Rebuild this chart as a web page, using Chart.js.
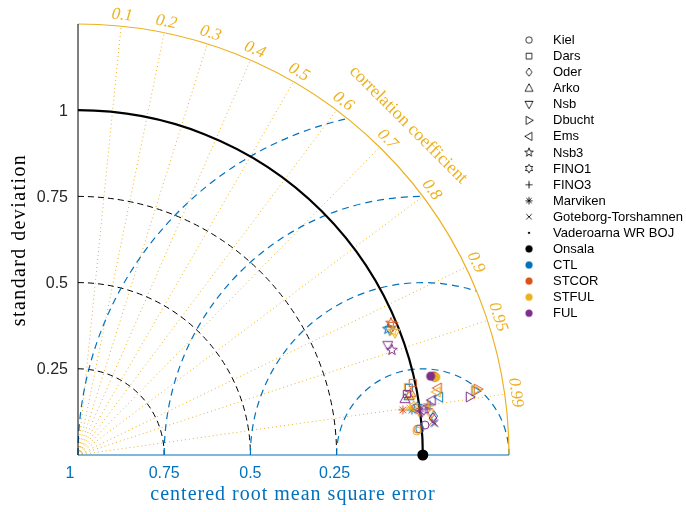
<!DOCTYPE html>
<html><head><meta charset="utf-8">
<script src="https://cdn.jsdelivr.net/npm/chart.js@4.4.0/dist/chart.umd.min.js"></script>
<style>html,body{margin:0;padding:0;background:#fff;}#wrap{width:686px;height:512px;position:relative}</style>
</head><body><div id="wrap"><canvas id="c" width="686" height="512"></canvas></div>
<script>
// ---------- data ----------
const stations = ['Kiel','Dars','Oder','Arko','Nsb','Dbucht','Ems','Nsb3','FINO1','FINO3','Marviken','Goteborg-Torshamnen','Vaderoarna WR BOJ','Onsala'];
const stationShapes = ['circle','square','diamond','triUp','triDown','triRight','triLeft','pentagram','hexagram','plus','asterisk','x','point','disc'];
const experiments = ['CTL','STCOR','STFUL','FUL'];
const expColors = ['#0072BD','#D95319','#EDB120','#7E2F8E'];
// normalized standard deviation per station
const stdCTL   = [0.994,0.979,1.038,0.975,0.974,1.168,1.060,0.970,0.995,1.031,0.977,1.036,1.001,1.059];
const stdSTCOR = [0.988,0.993,1.033,0.982,0.987,1.175,1.061,0.985,0.989,1.025,0.951,1.034,0.998,1.057];
const stdSTFUL = [0.985,0.977,1.030,0.978,0.985,1.169,1.056,0.981,0.984,1.027,0.972,1.031,0.995,1.062];
const stdFUL   = [1.010,0.970,1.035,0.962,0.953,1.149,1.038,0.960,1.011,1.017,0.999,1.039,1.003,1.048];
// correlation coefficient per station
const corCTL   = [0.9971,0.9800,0.9941,0.9845,0.9283,0.9873,0.9874,0.9264,0.9901,0.9901,0.9911,0.9960,0.9933,0.9770];
const corSTCOR = [0.9971,0.9777,0.9930,0.9831,0.9254,0.9867,0.9831,0.9214,0.9905,0.9895,0.9905,0.9955,0.9930,0.9762];
const corSTFUL = [0.9975,0.9794,0.9933,0.9841,0.9332,0.9869,0.9849,0.9305,0.9895,0.9904,0.9901,0.9958,0.9933,0.9771];
const corFUL   = [0.9963,0.9832,0.9946,0.9856,0.9425,0.9892,0.9882,0.9484,0.9917,0.9914,0.9918,0.9961,0.9937,0.9759];
// reference (observations)
const refStd = 1.0, refCor = 1.0;
// axes / ticks
const maxStd = 1.25;
const stdTicks = [0.25,0.5,0.75,1];
const stdTickLabels = ['0.25','0.5','0.75','1'];
const corrTicks = [0.1,0.2,0.3,0.4,0.5,0.6,0.7,0.8,0.9,0.95,0.99];
const corrTickLabels = ['0.1','0.2','0.3','0.4','0.5','0.6','0.7','0.8','0.9','0.95','0.99'];
const rmsTicks = [0.25,0.5,0.75,1];
const rmsTickLabels = ['0.25','0.5','0.75','1'];

const ORANGE = '#EDB120', BLUE = '#0072BD';

// ---------- marker canvases ----------
const markerCache = {};
function marker(shape, color){
  const key = shape+color;
  if (markerCache[key]) return markerCache[key];
  const S = 16, c = document.createElement('canvas');
  c.width = S; c.height = S;
  const g = c.getContext('2d');
  g.translate(S/2, S/2);
  g.strokeStyle = color; g.fillStyle = color; g.lineWidth = 1;
  const poly = pts => { g.beginPath(); pts.forEach((p,i)=> i?g.lineTo(p[0],p[1]):g.moveTo(p[0],p[1])); g.closePath(); g.stroke(); };
  const star = (n, ro, ri) => { const pts=[]; for(let i=0;i<2*n;i++){const a=-Math.PI/2+i*Math.PI/n; const r=i%2?ri:ro; pts.push([r*Math.cos(a), r*Math.sin(a)]);} poly(pts); };
  const line = (a,b,c2,d) => { g.beginPath(); g.moveTo(a,b); g.lineTo(c2,d); g.stroke(); };
  switch(shape){
    case 'circle': g.beginPath(); g.arc(0,0,4,0,2*Math.PI); g.stroke(); break;
    case 'square': poly([[-3.6,-3.6],[3.6,-3.6],[3.6,3.6],[-3.6,3.6]]); break;
    case 'diamond': poly([[0,-5],[3.8,0],[0,5],[-3.8,0]]); break;
    case 'triUp': poly([[0,-5.3],[5,3.7],[-5,3.7]]); break;
    case 'triDown': poly([[0,5.3],[5,-3.7],[-5,-3.7]]); break;
    case 'triRight': poly([[5.3,0],[-3.7,-5],[-3.7,5]]); break;
    case 'triLeft': poly([[-5.3,0],[3.7,-5],[3.7,5]]); break;
    case 'pentagram': star(5,5.6,2.3); break;
    case 'hexagram': star(6,5.2,3.0); break;
    case 'plus': line(-4.5,0,4.5,0); line(0,-4.5,0,4.5); break;
    case 'asterisk': line(-4.5,0,4.5,0); line(0,-4.5,0,4.5); line(-3.3,-3.3,3.3,3.3); line(-3.3,3.3,3.3,-3.3); break;
    case 'x': line(-3.5,-3.5,3.5,3.5); line(-3.5,3.5,3.5,-3.5); break;
    case 'point': g.beginPath(); g.arc(0,0,1.3,0,2*Math.PI); g.fill(); break;
    case 'disc': g.beginPath(); g.arc(0,0,4.5,0,2*Math.PI); g.fill(); break;
  }
  markerCache[key] = c;
  return c;
}

function toXY(stds, cors){
  return stds.map((s,i)=>({x: s*cors[i], y: s*Math.sqrt(Math.max(0,1-cors[i]*cors[i]))}));
}
const stdSets = [stdCTL, stdSTCOR, stdSTFUL, stdFUL];
const corSets = [corCTL, corSTCOR, corSTFUL, corFUL];

const datasets = experiments.map((name,k)=>({
  label: name,
  data: toXY(stdSets[k], corSets[k]),
  pointStyle: stationShapes.map(sh=>marker(sh, expColors[k])),
  pointRadius: 5,
  backgroundColor: expColors[k],
  borderColor: expColors[k],
  order: 4-k,
  clip: false
}));
datasets.push({
  label: 'reference',
  data: toXY([refStd],[refCor]),
  pointStyle: 'circle', pointRadius: 5.5, pointBorderWidth: 0,
  backgroundColor: '#000', borderColor: '#000', order: -1, clip: false
});

// ---------- Taylor grid plugin ----------
const taylor = {
  id: 'taylor',
  beforeDatasetsDraw(chart){
    const ctx = chart.ctx, xs = chart.scales.x, ys = chart.scales.y;
    const X = v=>xs.getPixelForValue(v), Y = v=>ys.getPixelForValue(v);
    const ox = X(0), oy = Y(0), k = X(1)-X(0), R = maxStd*k;
    ctx.save();
    // correlation rays
    ctx.strokeStyle = ORANGE; ctx.lineWidth = 1; ctx.setLineDash([1,3]);
    corrTicks.forEach(c=>{
      const th = Math.acos(c);
      ctx.beginPath(); ctx.moveTo(ox,oy); ctx.lineTo(ox+R*Math.cos(th), oy-R*Math.sin(th)); ctx.stroke();
    });
    // std dashed arcs
    ctx.strokeStyle = '#000'; ctx.lineWidth = 1; ctx.setLineDash([6,4]);
    stdTicks.filter(s=>s<1).forEach(s=>{ ctx.beginPath(); ctx.arc(ox,oy,s*k,-Math.PI/2,0); ctx.stroke(); });
    // RMS arcs
    ctx.strokeStyle = BLUE; ctx.lineWidth = 1.2; ctx.setLineDash([7,5]);
    const rx = X(refStd);
    rmsTicks.forEach(r=>{
      const xi = (maxStd*maxStd + 1 - r*r)/2;
      const yi = Math.sqrt(Math.max(0, maxStd*maxStd - xi*xi));
      const phi = Math.atan2(yi, xi-1);
      ctx.beginPath(); ctx.arc(rx, oy, r*k, -Math.PI, -phi); ctx.stroke();
    });
    // std = 1 solid
    ctx.setLineDash([]);
    ctx.strokeStyle = '#000'; ctx.lineWidth = 2.2;
    ctx.beginPath(); ctx.arc(ox,oy,k,-Math.PI/2,0); ctx.stroke();
    // outer arc
    ctx.strokeStyle = ORANGE; ctx.lineWidth = 1.2;
    ctx.beginPath(); ctx.arc(ox,oy,R,-Math.PI/2,0); ctx.stroke();
    // axes
    ctx.strokeStyle = '#000'; ctx.lineWidth = 1;
    ctx.beginPath(); ctx.moveTo(ox, oy); ctx.lineTo(ox, Y(maxStd)); ctx.stroke();
    ctx.strokeStyle = BLUE; ctx.lineWidth = 1.2;
    ctx.beginPath(); ctx.moveTo(ox, oy); ctx.lineTo(X(maxStd), oy); ctx.stroke();
    ctx.restore();
  },
  afterDraw(chart){
    const ctx = chart.ctx, xs = chart.scales.x, ys = chart.scales.y;
    const X = v=>xs.getPixelForValue(v), Y = v=>ys.getPixelForValue(v);
    const ox = X(0), oy = Y(0), k = X(1)-X(0), R = maxStd*k;
    ctx.save();
    // std tick labels
    ctx.font = '16px "Liberation Sans", Arial, sans-serif';
    ctx.fillStyle = '#262626'; ctx.textAlign = 'right'; ctx.textBaseline = 'middle';
    stdTicks.forEach((s,i)=> ctx.fillText(stdTickLabels[i], ox-10, Y(s)+1));
    // rms tick labels
    ctx.fillStyle = BLUE; ctx.textAlign = 'center'; ctx.textBaseline = 'middle';
    rmsTicks.forEach((r,i)=> ctx.fillText(rmsTickLabels[i], X(refStd - r) - (r===1?8:0) - (r===0.25?2:0), oy+19));
    // correlation labels
    ctx.fillStyle = ORANGE;
    ctx.font = 'italic 17px "Liberation Serif", "Times New Roman", serif';
    corrTicks.forEach((c,i)=>{
      const th = Math.acos(c), rr = R+11;
      ctx.save();
      ctx.translate(ox+rr*Math.cos(th), oy-rr*Math.sin(th));
      ctx.rotate(Math.PI/2 - th);
      ctx.textAlign='center'; ctx.textBaseline='middle';
      ctx.fillText(corrTickLabels[i], 0, 0);
      ctx.restore();
    });
    // correlation title
    ctx.font = '18px "Liberation Serif", "Times New Roman", serif';
    ctx.save();
    const tt = Math.PI/4, tr = R+36;
    ctx.translate(ox+tr*Math.cos(tt), oy-tr*Math.sin(tt));
    ctx.rotate(Math.PI/2 - tt);
    ctx.textAlign='center'; ctx.textBaseline='middle';
    ctx.fillText('correlation coefficient', 0, 0);
    ctx.restore();
    // axis titles
    ctx.font = '20px "Liberation Serif", "Times New Roman", serif';
    ctx.fillStyle = '#000';
    ctx.save(); ctx.translate(20, 240); ctx.rotate(-Math.PI/2);
    ctx.letterSpacing = '1.4px';
    ctx.textAlign='center'; ctx.textBaseline='middle';
    ctx.fillText('standard deviation', 0, 0); ctx.restore();
    ctx.save();
    ctx.letterSpacing = '1px';
    ctx.fillStyle = BLUE; ctx.textAlign='center'; ctx.textBaseline='middle';
    ctx.fillText('centered root mean square error', 293, 495);
    ctx.restore();
    // legend
    const lx = 529, tx = 553, ly0 = 40, dy = 16.07, sc = 0.82;
    ctx.font = '13px "Liberation Sans", Arial, sans-serif';
    ctx.textAlign='left'; ctx.textBaseline='middle';
    const rows = stations.map((s,i)=>({label:s, img:marker(stationShapes[i],'#000')}))
      .concat(experiments.map((e,i)=>({label:e, img:marker('disc', expColors[i])})));
    rows.forEach((row,i)=>{
      const y = ly0 + i*dy;
      const w = row.img.width*sc, h = row.img.height*sc;
      ctx.drawImage(row.img, lx-w/2, y-h/2, w, h);
      ctx.fillStyle = '#000';
      ctx.fillText(row.label, tx, y+0.5);
    });
    ctx.restore();
  }
};

new Chart(document.getElementById('c'), {
  type: 'scatter',
  data: { datasets },
  options: {
    responsive: false,
    animation: false,
    events: [],
    layout: { padding: { left: 78, right: 177, top: 24, bottom: 57 } },
    plugins: { legend: { display: false }, tooltip: { enabled: false } },
    scales: {
      x: { type: 'linear', min: 0, max: maxStd, display: false },
      y: { type: 'linear', min: 0, max: maxStd, display: false }
    }
  },
  plugins: [taylor]
});
</script></body></html>
